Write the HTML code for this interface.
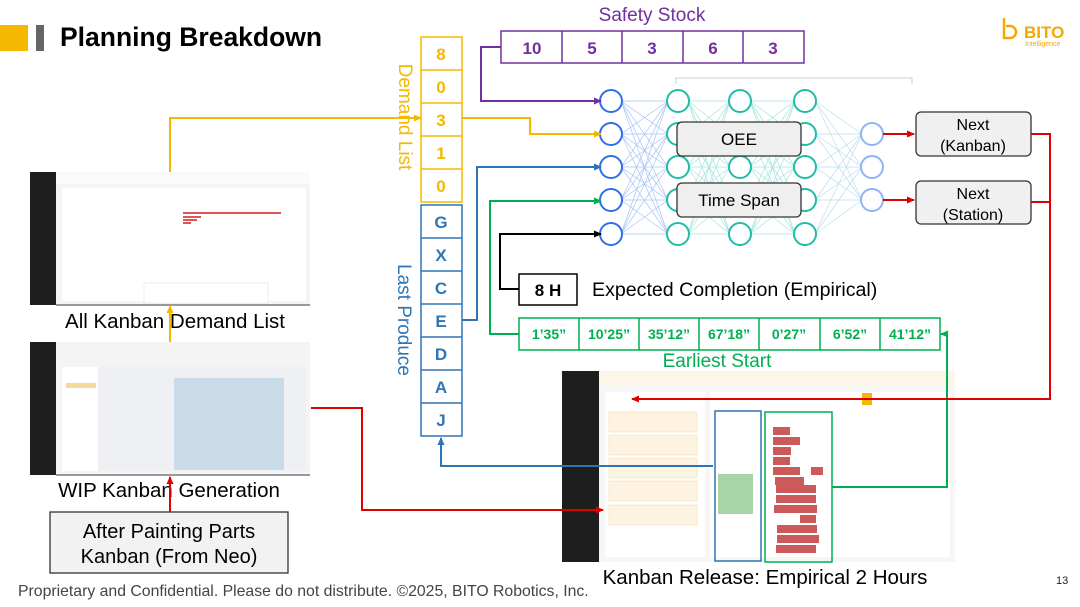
<!DOCTYPE html>
<html><head><meta charset="utf-8"><style>
html,body{margin:0;padding:0;background:#fff;}
svg{display:block;font-family:"Liberation Sans",Arial,sans-serif;}
</style></head><body>
<svg id="s" width="1080" height="607" viewBox="0 0 1080 607" xmlns="http://www.w3.org/2000/svg">
<defs>
<marker id="ay" markerWidth="8" markerHeight="8" refX="7" refY="4" orient="auto" markerUnits="userSpaceOnUse"><path d="M0,0.5 L8,4 L0,7.5z" fill="#F5B800"/></marker>
<marker id="ap" markerWidth="8" markerHeight="8" refX="7" refY="4" orient="auto" markerUnits="userSpaceOnUse"><path d="M0,0.5 L8,4 L0,7.5z" fill="#7030A0"/></marker>
<marker id="ab" markerWidth="8" markerHeight="8" refX="7" refY="4" orient="auto" markerUnits="userSpaceOnUse"><path d="M0,0.5 L8,4 L0,7.5z" fill="#2E75B6"/></marker>
<marker id="ag" markerWidth="8" markerHeight="8" refX="7" refY="4" orient="auto" markerUnits="userSpaceOnUse"><path d="M0,0.5 L8,4 L0,7.5z" fill="#00B050"/></marker>
<marker id="ak" markerWidth="8" markerHeight="8" refX="7" refY="4" orient="auto" markerUnits="userSpaceOnUse"><path d="M0,0.5 L8,4 L0,7.5z" fill="#000"/></marker>
<marker id="ar" markerWidth="8" markerHeight="8" refX="7" refY="4" orient="auto" markerUnits="userSpaceOnUse"><path d="M0,0.5 L8,4 L0,7.5z" fill="#E00000"/></marker>
</defs>
<!-- header -->
<rect x="0" y="25" width="28" height="26" fill="#F5B800"/>
<rect x="36" y="25" width="8" height="26" fill="#666"/>
<text x="60" y="46" font-size="26.5" font-weight="bold" fill="#000">Planning Breakdown</text>
<!-- logo -->
<path d="M1004,18 v20 h6 a6,6 0 0 0 0,-12 h-4" fill="none" stroke="#F5A800" stroke-width="2.5"/>
<text x="1024" y="38" font-size="17" font-weight="bold" fill="#F5A800">BITO</text>
<text x="1025" y="46" font-size="7" fill="#F5A800">Intelligence</text>
<!-- Safety stock -->
<text x="652" y="21" font-size="19" fill="#7030A0" text-anchor="middle">Safety Stock</text>
<g stroke="#7030A0" stroke-width="1.5" fill="none">
<rect x="501" y="31" width="303" height="32"/>
<line x1="562" y1="31" x2="562" y2="63"/><line x1="622" y1="31" x2="622" y2="63"/><line x1="683" y1="31" x2="683" y2="63"/><line x1="743" y1="31" x2="743" y2="63"/>
</g>
<g font-size="17" font-weight="bold" fill="#7030A0" text-anchor="middle">
<text x="532" y="54">10</text><text x="592" y="54">5</text><text x="652" y="54">3</text><text x="713" y="54">6</text><text x="773" y="54">3</text>
</g>
<path d="M676,84 v-6 h236 v6" fill="none" stroke="#ccc"/>
<!-- demand list -->
<g stroke="#F5B800" stroke-width="1.5" fill="none">
<rect x="421" y="37" width="41" height="165"/>
<line x1="421" y1="70" x2="462" y2="70"/><line x1="421" y1="103" x2="462" y2="103"/><line x1="421" y1="136" x2="462" y2="136"/><line x1="421" y1="169" x2="462" y2="169"/>
</g>
<g font-size="17" font-weight="bold" fill="#F5B800" text-anchor="middle">
<text x="441" y="60">8</text><text x="441" y="93">0</text><text x="441" y="126">3</text><text x="441" y="159">1</text><text x="441" y="192">0</text>
</g>
<text transform="translate(399,117) rotate(90)" font-size="19" fill="#F5B800" text-anchor="middle">Demand List</text>
<!-- last produce -->
<g stroke="#2E75B6" stroke-width="1.5" fill="none">
<rect x="421" y="205" width="41" height="231"/>
<line x1="421" y1="238" x2="462" y2="238"/><line x1="421" y1="271" x2="462" y2="271"/><line x1="421" y1="304" x2="462" y2="304"/><line x1="421" y1="337" x2="462" y2="337"/><line x1="421" y1="370" x2="462" y2="370"/><line x1="421" y1="403" x2="462" y2="403"/>
</g>
<g font-size="17" font-weight="bold" fill="#2E75B6" text-anchor="middle">
<text x="441" y="228">G</text><text x="441" y="261">X</text><text x="441" y="294">C</text><text x="441" y="327">E</text><text x="441" y="360">D</text><text x="441" y="393">A</text><text x="441" y="426">J</text>
</g>
<text transform="translate(398,320) rotate(90)" font-size="19" fill="#2E75B6" text-anchor="middle">Last Produce</text>
<!-- NN edges -->
<g id="edges" stroke-width="0.7" opacity="0.6"></g>
<g id="nodes" fill="#fff" stroke-width="2"></g>
<rect x="677" y="122" width="124" height="34" rx="5" fill="#efefef" stroke="#333" stroke-width="1.3"/>
<text x="739" y="145" font-size="17" text-anchor="middle">OEE</text>
<rect x="677" y="183" width="124" height="34" rx="5" fill="#efefef" stroke="#333" stroke-width="1.3"/>
<text x="739" y="206" font-size="17" text-anchor="middle">Time Span</text>
<rect x="916" y="112" width="115" height="44" rx="5" fill="#f0f0f0" stroke="#333" stroke-width="1.3"/>
<text x="973" y="130" font-size="16" text-anchor="middle">Next</text><text x="973" y="151" font-size="16" text-anchor="middle">(Kanban)</text>
<rect x="916" y="181" width="115" height="43" rx="5" fill="#f0f0f0" stroke="#333" stroke-width="1.3"/>
<text x="973" y="199" font-size="16" text-anchor="middle">Next</text><text x="973" y="220" font-size="16" text-anchor="middle">(Station)</text>
<!-- 8H -->
<rect x="519" y="274" width="58" height="31" fill="#fff" stroke="#000" stroke-width="1.5"/>
<text x="548" y="296" font-size="17" font-weight="bold" text-anchor="middle">8 H</text>
<text x="592" y="296" font-size="19.6">Expected Completion (Empirical)</text>
<!-- times -->
<g stroke="#00B050" stroke-width="1.5" fill="none">
<rect x="519" y="318" width="421" height="32"/>
<line x1="579" y1="318" x2="579" y2="350"/><line x1="639" y1="318" x2="639" y2="350"/><line x1="699" y1="318" x2="699" y2="350"/><line x1="759" y1="318" x2="759" y2="350"/><line x1="820" y1="318" x2="820" y2="350"/><line x1="880" y1="318" x2="880" y2="350"/>
</g>
<g font-size="14" font-weight="bold" fill="#00B050" text-anchor="middle">
<text x="549" y="339">1’35”</text><text x="609" y="339">10’25”</text><text x="669" y="339">35’12”</text><text x="729" y="339">67’18”</text><text x="789" y="339">0’27”</text><text x="850" y="339">6’52”</text><text x="910" y="339">41’12”</text>
</g>
<text x="717" y="367" font-size="19" fill="#00B050" text-anchor="middle">Earliest Start</text>
<!-- screenshot 1 -->
<g>
<rect x="30" y="172" width="280" height="133" fill="#f4f4f4"/>
<rect x="30" y="172" width="26" height="133" fill="#1e1e1e"/>
<rect x="56" y="172" width="254" height="12" fill="#fafafa"/>
<rect x="62" y="188" width="244" height="113" fill="#fff"/>
<rect x="183" y="212" width="98" height="2" fill="#d55"/>
<rect x="183" y="216" width="18" height="2" fill="#d55"/><rect x="183" y="219" width="14" height="2" fill="#d55"/><rect x="183" y="222" width="8" height="2" fill="#d55"/>
<rect x="144" y="283" width="124" height="20" fill="#fff" stroke="#ddd" stroke-width="0.5"/>
<rect x="56" y="304" width="254" height="2" fill="#999"/>
</g>
<text x="175" y="328" font-size="20.5" text-anchor="middle">All Kanban Demand List</text>
<!-- screenshot 2 -->
<g>
<rect x="30" y="342" width="280" height="133" fill="#f4f4f4"/>
<rect x="30" y="342" width="26" height="133" fill="#1e1e1e"/>
<rect x="62" y="367" width="36" height="104" fill="#fff"/>
<rect x="98" y="367" width="208" height="104" fill="#eef0f3"/>
<rect x="174" y="378" width="110" height="92" fill="#c9dbe9"/>
<rect x="66" y="383" width="30" height="5" fill="#f7d99b"/>
<rect x="56" y="474" width="254" height="2" fill="#999"/>
</g>
<text x="169" y="497" font-size="20.5" text-anchor="middle">WIP Kanban Generation</text>
<rect x="50" y="512" width="238" height="61" fill="#f2f2f2" stroke="#333" stroke-width="1.3"/>
<text x="169" y="538" font-size="20" text-anchor="middle">After Painting Parts</text>
<text x="169" y="563" font-size="20" text-anchor="middle">Kanban (From Neo)</text>
<!-- big screenshot -->
<g>
<rect x="562" y="371" width="393" height="191" fill="#f6f6f6"/>
<rect x="562" y="371" width="37" height="191" fill="#1e1e1e"/>
<rect x="599" y="371" width="356" height="14" fill="#fcf6e8"/>
<rect x="605" y="392" width="100" height="165" fill="#fff"/>
<g fill="#fdf3e0" stroke="#f0d9a8" stroke-width="0.5">
<rect x="609" y="412" width="88" height="20"/><rect x="609" y="435" width="88" height="20"/><rect x="609" y="458" width="88" height="20"/><rect x="609" y="481" width="88" height="20"/><rect x="609" y="505" width="88" height="20"/>
</g>
<rect x="710" y="392" width="240" height="165" fill="#fff"/>
<rect x="718" y="474" width="35" height="40" fill="#a8d4a8"/>
<g fill="#cc5a5a">
<rect x="773" y="427" width="17" height="8"/><rect x="773" y="437" width="27" height="8"/><rect x="773" y="447" width="18" height="8"/><rect x="773" y="457" width="17" height="8"/><rect x="773" y="467" width="27" height="8"/><rect x="811" y="467" width="12" height="8"/><rect x="775" y="477" width="29" height="8"/><rect x="776" y="485" width="40" height="8"/><rect x="776" y="495" width="40" height="8"/><rect x="774" y="505" width="43" height="8"/><rect x="800" y="515" width="16" height="8"/><rect x="777" y="525" width="40" height="8"/><rect x="777" y="535" width="42" height="8"/><rect x="776" y="545" width="40" height="8"/>
</g>
<rect x="715" y="411" width="46" height="150" fill="none" stroke="#2E75B6" stroke-width="1.5"/>
<rect x="765" y="412" width="67" height="150" fill="none" stroke="#00B050" stroke-width="1.5"/>
<rect x="862" y="393" width="10" height="12" fill="#f5b800"/>
</g>
<!-- connectors -->
<g fill="none" stroke-width="2">
<path d="M501,47 H481 V101 H601" stroke="#7030A0" marker-end="url(#ap)"/>
<path d="M462,118 H530 V134 H601" stroke="#F5B800" marker-end="url(#ay)"/>
<path d="M170,172 V118 H421" stroke="#F5B800" marker-end="url(#ay)"/>
<path d="M170,342 V306" stroke="#F5B800" marker-end="url(#ay)"/>
<path d="M462,320 H477 V167 H601" stroke="#2E75B6" marker-end="url(#ab)"/>
<path d="M713,466 H441 V438" stroke="#2E75B6" marker-end="url(#ab)"/>
<path d="M519,334 H490 V201 H601" stroke="#00B050" marker-end="url(#ag)"/>
<path d="M832,487 H947 V334 H941" stroke="#00B050" marker-end="url(#ag)"/>
<path d="M519,289 H500 V234 H601" stroke="#000" marker-end="url(#ak)"/>
<path d="M883,134 H914" stroke="#E00000" marker-end="url(#ar)"/>
<path d="M883,200 H914" stroke="#E00000" marker-end="url(#ar)"/>
<path d="M1031,134 H1050 V399 H632" stroke="#E00000" marker-end="url(#ar)"/>
<path d="M1031,202 H1050" stroke="#E00000"/>
<path d="M311,408 H362 V510 H603" stroke="#E00000" marker-end="url(#ar)"/>
<path d="M170,512 V477" stroke="#E00000" marker-end="url(#ar)"/>
</g>
<text x="765" y="584" font-size="20.5" text-anchor="middle">Kanban Release: Empirical 2 Hours</text>
<text x="18" y="596" font-size="15.8" fill="#444">Proprietary and Confidential. Please do not distribute. ©2025, BITO Robotics, Inc.</text>
<text x="1056" y="584" font-size="11" fill="#222">13</text>
</svg>
<script>
var ns="http://www.w3.org/2000/svg";
var cols=[[611,[101,134,167,200,234],"#2F6FE8"],[678,[101,134,167,200,234],"#22BBAA"],[740,[101,134,167,200,234],"#22BBAA"],[805,[101,134,167,200,234],"#22BBAA"],[872,[134,167,200],"#8FB4F5"]];
var ecol=["#6f9cf0","#66d3c8","#66d3c8","#88c9e8"];
var E=document.getElementById("edges"),N=document.getElementById("nodes");
for(var c=0;c<cols.length-1;c++){var a=cols[c],b=cols[c+1];
a[1].forEach(function(y1){b[1].forEach(function(y2){var l=document.createElementNS(ns,"line");l.setAttribute("x1",a[0]+10);l.setAttribute("y1",y1);l.setAttribute("x2",b[0]-10);l.setAttribute("y2",y2);l.setAttribute("stroke",ecol[c]);E.appendChild(l);});});}
cols.forEach(function(cl){cl[1].forEach(function(y){var o=document.createElementNS(ns,"circle");o.setAttribute("cx",cl[0]);o.setAttribute("cy",y);o.setAttribute("r",11);o.setAttribute("stroke",cl[2]);N.appendChild(o);});});
</script>
</body></html>
